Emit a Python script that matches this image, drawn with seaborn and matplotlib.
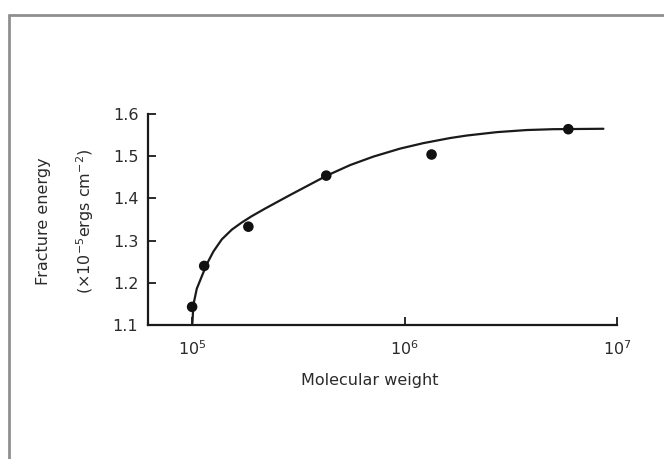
import matplotlib
matplotlib.use("Agg")
import matplotlib.pyplot as plt
from matplotlib.lines import Line2D
import seaborn as sns
import pandas as pd

# Measured fracture energies
mol_weight = [1.0e5, 1.14e5, 1.84e5, 4.28e5, 1.34e6, 5.9e6]
fracture_energy = [1.143, 1.240, 1.333, 1.454, 1.504, 1.564]

# Fitted trend curve
curve_mw = [1.003e5, 1.014e5, 1.052e5, 1.112e5, 1.172e5, 1.259e5, 1.380e5,
            1.538e5, 1.714e5, 1.910e5, 2.208e5, 2.547e5, 2.891e5, 3.589e5,
            4.305e5, 5.546e5, 7.129e5, 9.528e5, 1.227e6, 1.637e6, 1.963e6,
            2.716e6, 3.758e6, 5.012e6, 8.63e6]
curve_energy = [1.104, 1.148, 1.186, 1.216, 1.244, 1.274, 1.303,
                1.326, 1.343, 1.358, 1.376, 1.393, 1.408, 1.433,
                1.454, 1.479, 1.499, 1.518, 1.531, 1.543, 1.549,
                1.557, 1.562, 1.564, 1.565]

x_ticks = [1e5, 1e6, 1e7]
x_tick_labels = ["$10^5$", "$10^6$", "$10^7$"]
y_ticks = [1.1, 1.2, 1.3, 1.4, 1.5, 1.6]
y_tick_labels = ["1.1", "1.2", "1.3", "1.4", "1.5", "1.6"]

points = pd.DataFrame({"mw": mol_weight, "energy": fracture_energy})
curve = pd.DataFrame({"mw": curve_mw, "energy": curve_energy})

sns.set_style("ticks")
plt.rcParams["font.family"] = ["DejaVu Sans"]
plt.rcParams["mathtext.fontset"] = "dejavusans"
plt.rcParams["mathtext.default"] = "regular"

ink = "#1a1a1a"
text_col = "#2b2b2b"

fig = plt.figure(figsize=(6.64, 4.59), dpi=100)
ax = fig.add_axes([148 / 664, 1 - 325 / 459, (617 - 148) / 664, (325 - 114) / 459])

sns.lineplot(data=curve, x="mw", y="energy", ax=ax, color=ink,
             linewidth=1.6, sort=False, estimator=None)
ax.lines[-1].set_solid_joinstyle("round")
sns.scatterplot(data=points, x="mw", y="energy", ax=ax, color="#111111",
                s=58, edgecolor="none", zorder=3)

ax.set_xscale("log")
ax.set_xlim(6.2e4, 1e7)
ax.set_ylim(1.1, 1.6)
ax.set_xticks(x_ticks)
ax.set_xticklabels(x_tick_labels)
ax.xaxis.set_minor_locator(matplotlib.ticker.NullLocator())
ax.set_yticks(y_ticks)
ax.set_yticklabels(y_tick_labels)

for side in ["top", "right"]:
    ax.spines[side].set_visible(False)
for side in ["left", "bottom"]:
    ax.spines[side].set_linewidth(1.6)
    ax.spines[side].set_color(ink)

ax.tick_params(axis="both", direction="in", length=6, width=1.3,
               colors=ink, labelsize=11.5, labelcolor=text_col)
ax.tick_params(axis="x", pad=10)
ax.tick_params(axis="y", pad=7)

ax.set_xlabel("Molecular weight", fontsize=11.5, color=text_col, va="center")
ax.xaxis.set_label_coords((370 - 148) / 469, (325 - 381) / 211)
ax.set_ylabel("Fracture energy\n(\u00d7$10^{-5}$ergs cm$^{-2}$)", fontsize=11.5,
              color=text_col, linespacing=2.4, va="center")
ax.yaxis.set_label_coords((66 - 148) / 469, 0.49)

# Outer frame: only top and left edges fall inside the image
fx = 9 / 664
fy = 1 - 15 / 459
fig.add_artist(Line2D([fx, 1.0], [fy, fy], transform=fig.transFigure,
                      color="#8f8f8f", linewidth=2))
fig.add_artist(Line2D([fx, fx], [0.0, fy], transform=fig.transFigure,
                      color="#8f8f8f", linewidth=2))

fig.savefig("out.png", dpi=100)
